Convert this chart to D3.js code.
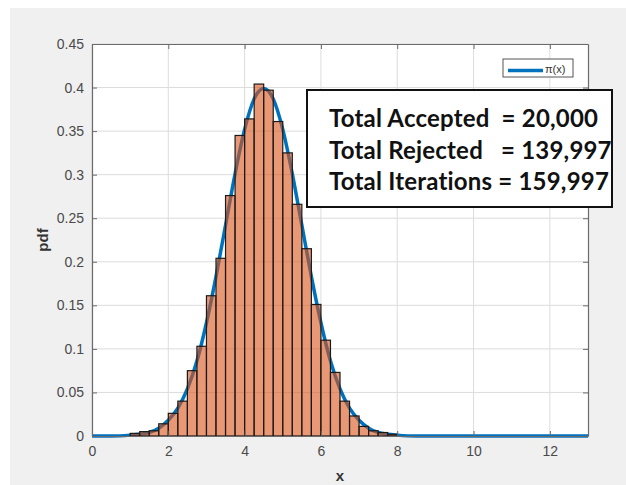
<!DOCTYPE html>
<html>
<head>
<meta charset="utf-8">
<script src="https://cdn.jsdelivr.net/npm/d3@7"></script>
<style>
  html, body { margin: 0; padding: 0; background: #ffffff; }
  svg { display: block; }
</style>
</head>
<body>
<script>
// Histogram of accepted samples (bin left edges, width 0.25) and their normalized heights
const binStarts = [1.00, 1.25, 1.50, 1.75, 2.00, 2.25, 2.50, 2.75, 3.00, 3.25,
                   3.50, 3.75, 4.00, 4.25, 4.50, 4.75, 5.00, 5.25, 5.50, 5.75,
                   6.00, 6.25, 6.50, 6.75, 7.00, 7.25, 7.50, 7.75];
const binHeights = [0.003, 0.005, 0.006, 0.014, 0.026, 0.040, 0.075, 0.103, 0.161, 0.204,
                    0.276, 0.345, 0.364, 0.404, 0.397, 0.361, 0.325, 0.266, 0.215, 0.151,
                    0.110, 0.073, 0.040, 0.023, 0.011, 0.006, 0.004, 0.002];
const binWidth = 0.25;

// Target density pi(x)
const curveX = [0, 0.5, 1.0, 1.25, 1.5, 1.75, 2.0, 2.25, 2.5, 2.75, 3.0, 3.25, 3.5, 3.75,
                4.0, 4.25, 4.5, 4.75, 5.0, 5.25, 5.5, 5.75, 6.0, 6.25, 6.5, 6.75, 7.0,
                7.25, 7.5, 7.75, 8.0, 8.5, 9.0, 10.0, 11.0, 12.0, 13.0];
const curveY = [0.000, 0.000, 0.001, 0.002, 0.004, 0.009, 0.018, 0.032, 0.054, 0.086, 0.130, 0.183, 0.242, 0.301,
                0.352, 0.387, 0.399, 0.387, 0.352, 0.301, 0.242, 0.183, 0.130, 0.086, 0.054, 0.032, 0.018,
                0.009, 0.004, 0.002, 0.001, 0.000, 0.000, 0.000, 0.000, 0.000, 0.000];

const xTicks = [0, 2, 4, 6, 8, 10, 12];
const yTicks = [0, 0.05, 0.1, 0.15, 0.2, 0.25, 0.3, 0.35, 0.4, 0.45];
const yTickLabels = ["0", "0.05", "0.1", "0.15", "0.2", "0.25", "0.3", "0.35", "0.4", "0.45"];

const statsLines = ["Total Accepted  = 20,000",
                    "Total Rejected   = 139,997",
                    "Total Iterations = 159,997"];
const legendLabel = "\u03C0(x)";

const W = 626, H = 485;
const plot = { left: 92, top: 44, width: 496, height: 392 };

const svg = d3.select("body").append("svg")
  .attr("width", W).attr("height", H);

// figure background
svg.append("rect").attr("x", 10).attr("y", 8)
  .attr("width", W - 10).attr("height", H - 8)
  .attr("fill", "#f0f0f0");

const x = d3.scaleLinear().domain([0, 13]).range([0, plot.width]);
const y = d3.scaleLinear().domain([0, 0.45]).range([plot.height, 0]);

const g = svg.append("g").attr("transform", `translate(${plot.left},${plot.top})`);

g.append("rect").attr("width", plot.width).attr("height", plot.height).attr("fill", "#ffffff");

// grid
g.append("g").selectAll("line").data(xTicks).join("line")
  .attr("x1", d => x(d)).attr("x2", d => x(d))
  .attr("y1", 0).attr("y2", plot.height)
  .attr("stroke", "#dcdcdc").attr("stroke-width", 1);
g.append("g").selectAll("line").data(yTicks).join("line")
  .attr("x1", 0).attr("x2", plot.width)
  .attr("y1", d => y(d)).attr("y2", d => y(d))
  .attr("stroke", "#dcdcdc").attr("stroke-width", 1);

// density curve (drawn beneath the semi-transparent bars)
const line = d3.line()
  .x((d, i) => x(curveX[i]))
  .y(d => y(d))
  .curve(d3.curveMonotoneX);
g.append("path").datum(curveY)
  .attr("d", line)
  .attr("fill", "none")
  .attr("stroke", "#0072bd")
  .attr("stroke-width", 3.5);

// histogram bars
g.append("g").selectAll("rect").data(binHeights).join("rect")
  .attr("x", (d, i) => x(binStarts[i]))
  .attr("y", d => y(d))
  .attr("width", (d, i) => x(binStarts[i] + binWidth) - x(binStarts[i]))
  .attr("height", d => y(0) - y(d))
  .attr("fill", "rgb(217,83,25)")
  .attr("fill-opacity", 0.6)
  .attr("stroke", "#1a1a1a")
  .attr("stroke-width", 1.2);

// axes (MATLAB-style box with inward ticks)
const axisColor = "#6b6b6b";
const labelColor = "#4a4a4a";
const bottomAxis = d3.axisBottom(x).tickValues(xTicks).tickSizeInner(-5).tickSizeOuter(0).tickPadding(10);
const leftAxis = d3.axisLeft(y).tickValues(yTicks).tickSizeInner(-5).tickSizeOuter(0).tickPadding(8)
  .tickFormat((d, i) => yTickLabels[i]);
const topAxis = d3.axisTop(x).tickValues(xTicks).tickSizeInner(-5).tickSizeOuter(0).tickFormat("");
const rightAxis = d3.axisRight(y).tickValues(yTicks).tickSizeInner(-5).tickSizeOuter(0).tickFormat("");

function styleAxis(sel) {
  sel.select(".domain").attr("stroke", axisColor).attr("stroke-width", 1.2);
  sel.selectAll(".tick line").attr("stroke", axisColor);
  sel.selectAll(".tick text").attr("fill", labelColor)
    .style("font-family", "'Liberation Sans', Arial, sans-serif").style("font-size", "14px");
}
g.append("g").attr("transform", `translate(0,${plot.height})`).call(bottomAxis).call(styleAxis);
g.append("g").call(leftAxis).call(styleAxis);
g.append("g").call(topAxis).call(styleAxis);
g.append("g").attr("transform", `translate(${plot.width},0)`).call(rightAxis).call(styleAxis);

// axis titles
svg.append("text")
  .attr("x", plot.left + x(6.5)).attr("y", 481)
  .attr("text-anchor", "middle")
  .attr("fill", "#333")
  .style("font-family", "'Liberation Sans', Arial, sans-serif")
  .style("font-size", "15px").style("font-weight", "bold")
  .text("x");
svg.append("text")
  .attr("transform", `translate(48,${plot.top + plot.height / 2}) rotate(-90)`)
  .attr("text-anchor", "middle")
  .attr("fill", "#333")
  .style("font-family", "'Liberation Sans', Arial, sans-serif")
  .style("font-size", "15px").style("font-weight", "bold")
  .text("pdf");

// legend
const lg = svg.append("g").attr("transform", "translate(503,59)");
lg.append("rect").attr("width", 70).attr("height", 18)
  .attr("fill", "#ffffff").attr("stroke", "#555").attr("stroke-width", 1);
lg.append("line").attr("x1", 5).attr("x2", 40).attr("y1", 11.5).attr("y2", 11.5)
  .attr("stroke", "#0072bd").attr("stroke-width", 3.5);
lg.append("text").attr("x", 42).attr("y", 14)
  .attr("fill", "#333")
  .style("font-family", "'Liberation Sans', Arial, sans-serif")
  .style("font-size", "11px")
  .text(legendLabel);

// statistics box
const sb = svg.append("g").attr("transform", "translate(307,90)");
sb.append("rect").attr("width", 305).attr("height", 117)
  .attr("fill", "#ffffff").attr("stroke", "#111").attr("stroke-width", 2);
sb.selectAll("text").data(statsLines).join("text")
  .attr("x", 22)
  .attr("y", (d, i) => 37 + i * 31.5)
  .attr("fill", "#111")
  .attr("xml:space", "preserve")
  .style("white-space", "pre")
  .style("font-family", "Lato, 'Open Sans', sans-serif")
  .style("font-size", "24px").style("font-weight", "bold")
  .style("letter-spacing", "0.2px")
  .text(d => d);
</script>
</body>
</html>
